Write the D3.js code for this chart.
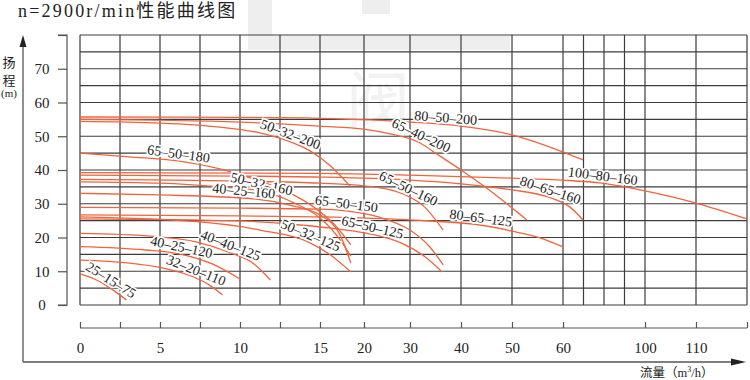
<!DOCTYPE html>
<html>
<head>
<meta charset="utf-8">
<script src="https://cdn.jsdelivr.net/npm/d3@7"></script>
<style>
  body { margin: 0; background: #fff; }
  svg { display: block; font-family: "Liberation Serif", "DejaVu Serif", "Noto Sans CJK SC", serif; }
</style>
</head>
<body>
<svg id="chart" width="750" height="380"></svg>
<script>
// Pump models, one curve each
const pumpNames = [
  '80-50-200', '65-40-200', '50-32-200', '65-50-180', '50-32-160', '40-25-160',
  '65-50-160', '65-50-150', '65-50-125', '50-32-125', '80-65-125', '80-65-160',
  '100-80-160', '40-40-125', '40-25-120', '32-20-110', '25-15-75',
];

// Flow (m3/h)
const pumpFlows = [
  [0, 10, 15, 30, 40, 50, 56.9, 69.8],
  [0, 10, 15, 20, 25.7, 31.6, 35.9, 40, 46.3, 52.9],
  [0, 5, 8.75, 11.25, 13, 14.4, 16.2, 18.5],
  [0, 3.1, 6.1, 8.75, 11.25, 13.1, 14.7, 16.7, 18.5],
  [0, 5, 8.75, 11.25, 13.4, 15, 17.3, 18.5],
  [0, 5, 10.2, 13.1, 15, 17.3, 18.5],
  [0, 10, 15, 20, 25.7, 29, 32.9, 36.5],
  [0, 10, 15, 17.9, 23.1, 30, 33.9, 36.5],
  [0, 10, 13.75, 17.1, 21.5, 28.5, 33, 36.3],
  [0, 7.5, 11.25, 14.25, 16.2, 18.5],
  [0, 10, 15, 30, 43.7, 50, 55.5, 60],
  [0, 10, 15, 30, 40, 50, 57.1, 63.4, 69.8],
  [0, 15, 30, 50, 60, 79, 100, 110, 120],
  [0, 4.4, 7.25, 9.25, 10.9, 11.9],
  [0, 4.1, 6.25, 8.3, 10],
  [0, 3.1, 5.1, 7.1, 8.1, 8.9],
  [0, 0.9, 1.7, 2.4, 2.9],
];

// Head (m) matching the flows above
const pumpHeads = [
  [55.7, 55.6, 55.3, 54.2, 53.0, 50.4, 47.1, 43.0],
  [55.0, 54.2, 53.0, 52.1, 50.7, 48.3, 44.1, 40.0, 33.2, 25.2],
  [54.4, 53.9, 52.7, 51.0, 48.6, 45.6, 41.2, 35.0],
  [45.0, 43.9, 42.7, 40.3, 36.7, 33.2, 28.7, 23.7, 17.8],
  [36.5, 36.1, 35.0, 33.8, 30.2, 25.8, 19.3, 14.5],
  [33.1, 32.6, 31.7, 29.6, 26.7, 20.7, 12.4],
  [37.2, 36.7, 36.1, 35.3, 34.1, 32.6, 29.0, 22.2],
  [28.9, 28.7, 28.4, 27.9, 26.1, 22.2, 17.2, 11.9],
  [25.5, 24.9, 23.7, 22.5, 21.0, 18.1, 14.2, 9.8],
  [26.1, 24.6, 22.2, 18.7, 14.8, 9.8],
  [26.7, 26.4, 26.1, 25.2, 23.7, 21.9, 19.9, 17.2],
  [38.5, 38.2, 37.9, 37.0, 35.9, 34.1, 32.0, 29.0, 25.2],
  [39.2, 39.0, 38.5, 37.6, 37.0, 36.1, 33.8, 30.2, 25.5],
  [21.2, 20.4, 18.7, 15.7, 12.1, 7.4],
  [17.3, 16.3, 15.1, 12.1, 7.7],
  [13.3, 12.4, 11.0, 8.3, 5.9, 3.0],
  [9.2, 7.7, 5.6, 3.3, 1.5],
];

// Flow where each model's label sits on its curve
const labelFlows = [36.9, 31.6, 13, 6.1, 11.25, 10.2, 29, 17.9, 21.5, 14.25, 43.7, 57.1, 79, 9.25, 6.25, 7.1, 1.7];

// Axis ticks
const xGridValues = [0, 2.5, 5, 7.5, 10, 12.5, 15, 20, 30, 40, 50, 60, 70, 80, 90, 100, 110, 120];
const xTickValues = [0, 2.5, 5, 7.5, 10, 12.5, 15, 20, 30, 40, 50, 60, 100, 110, 120];
const xTickLabels = [0, 5, 10, 15, 20, 30, 40, 50, 60, 100, 110];
const yGridValues = d3.range(0, 81, 5);
const yTickValues = d3.range(0, 81, 10);
const yTickLabels = [0, 10, 20, 30, 40, 50, 60, 70];

const CURVE_COLOR = '#f0643c';
const GRID_COLOR = '#3c3c3c';

const svg = d3.select('#chart');

// The flow axis of the original is stretched piecewise
const x = d3.scaleLinear()
  .domain([0, 15, 20, 30, 60, 100, 120])
  .range([80, 320, 364, 410, 563, 645, 747]);
const y = d3.scaleLinear().domain([0, 80]).range([305, 35]);

// Faint watermark behind the grid
const wm = svg.append('g').attr('fill', '#eeeeee');
wm.append('rect').attr('x', 248).attr('y', 0).attr('width', 24).attr('height', 50);
wm.append('rect').attr('x', 248).attr('y', 36).attr('width', 262).attr('height', 14);
wm.append('rect').attr('x', 362).attr('y', 0).attr('width', 28).attr('height', 14);
wm.append('text').attr('x', 378).attr('y', 124).attr('text-anchor', 'middle').attr('fill', '#f2f2f2')
  .attr('font-size', 64).attr('font-family', 'Noto Sans CJK SC').text('阀');

// Title
svg.append('text')
  .attr('x', 18).attr('y', 17)
  .attr('font-size', 18).attr('letter-spacing', 2.2).attr('fill', '#222')
  .text('n=2900r/min性能曲线图');

// Grid
const grid = svg.append('g').attr('stroke', GRID_COLOR).attr('stroke-width', 1.2);
grid.selectAll('.v').data(xGridValues).enter().append('line')
  .attr('x1', (d) => x(d)).attr('x2', (d) => x(d))
  .attr('y1', y(80)).attr('y2', y(0));
grid.selectAll('.h').data(yGridValues).enter().append('line')
  .attr('x1', x(0)).attr('x2', x(120))
  .attr('y1', (d) => y(d)).attr('y2', (d) => y(d));

// Left axis with ticks
const yAxis = d3.axisLeft(y).tickValues(yTickValues).tickSize(9)
  .tickFormat((d) => (yTickLabels.includes(d) ? d : ''));
const yg = svg.append('g').attr('transform', 'translate(67,0)').call(yAxis);
yg.select('.domain').attr('d', `M-9,${y(80)}H0V${y(0)}H-9`);
yg.selectAll('path, line').attr('stroke', '#555').attr('stroke-width', 1.2);
yg.selectAll('text').attr('x', -25).attr('text-anchor', 'middle')
  .attr('font-size', 15).attr('font-family', 'Liberation Serif').attr('fill', '#222');

// Bottom flow axis
const xAxis = d3.axisTop(x).tickValues(xTickValues).tickSize(6)
  .tickFormat((d) => (xTickLabels.includes(d) ? d : ''));
const xg = svg.append('g').attr('transform', 'translate(0,328)').call(xAxis);
xg.select('.domain').attr('d', `M${x(0)},0H${x(120)}`);
xg.selectAll('path, line').attr('stroke', '#555').attr('stroke-width', 1.2);
xg.selectAll('text').attr('y', 20).attr('dy', '0.32em')
  .attr('font-size', 15).attr('font-family', 'Liberation Serif').attr('fill', '#222');

// Outer arrows
svg.append('path').attr('d', 'M23,362V44M23,362H733')
  .attr('stroke', '#555').attr('stroke-width', 1.3).attr('fill', 'none');
svg.append('path').attr('d', 'M23,35L19.5,47H26.5Z').attr('fill', '#222');
svg.append('path').attr('d', 'M746,362L731,358.5V365.5Z').attr('fill', '#222');

// Axis titles
svg.append('g').attr('fill', '#222').attr('text-anchor', 'middle')
  .selectAll('text').data(['扬', '程', '(m)']).enter().append('text')
  .attr('x', 9).attr('y', (d, i) => [67, 85, 97][i])
  .attr('font-size', (d, i) => (i === 2 ? 11 : 13))
  .text((d) => d);
svg.append('text').attr('x', 640).attr('y', 377).attr('font-size', 12.5).attr('fill', '#222')
  .html('流量（m<tspan font-size="8" dy="-5">3</tspan><tspan dy="5">/h）</tspan>');

// Curves
const curves = pumpNames.map((name, i) => ({
  name,
  pts: pumpFlows[i].map((q, j) => [x(q), y(pumpHeads[i][j])]),
  labelX: x(labelFlows[i]),
}));

const line = d3.line().curve(d3.curveMonotoneX);
svg.append('g').selectAll('path').data(curves).enter().append('path')
  .attr('d', (d) => line(d.pts))
  .attr('fill', 'none').attr('stroke', CURVE_COLOR).attr('stroke-width', 1.3);

// Height of a curve at a pixel x
function curveY(pts, px) {
  for (let k = 1; k < pts.length; k++) {
    if (px <= pts[k][0]) {
      const t = (px - pts[k - 1][0]) / (pts[k][0] - pts[k - 1][0]);
      return pts[k - 1][1] + t * (pts[k][1] - pts[k - 1][1]);
    }
  }
  return pts[pts.length - 1][1];
}

// Labels along the curves, white halo hides grid under them
svg.append('g').selectAll('text').data(curves).enter().append('text')
  .attr('transform', (d) => {
    const py = curveY(d.pts, d.labelX);
    const a = Math.atan2(curveY(d.pts, d.labelX + 8) - curveY(d.pts, d.labelX - 8), 16) * 180 / Math.PI;
    return `translate(${d.labelX},${py}) rotate(${a})`;
  })
  .attr('y', -2.5)
  .attr('text-anchor', 'middle')
  .attr('font-size', 14)
  .attr('fill', '#222')
  .attr('stroke', '#fff').attr('stroke-width', 3.5).attr('paint-order', 'stroke')
  .text((d) => d.name.replace(/-/g, '–'));
</script>
</body>
</html>
